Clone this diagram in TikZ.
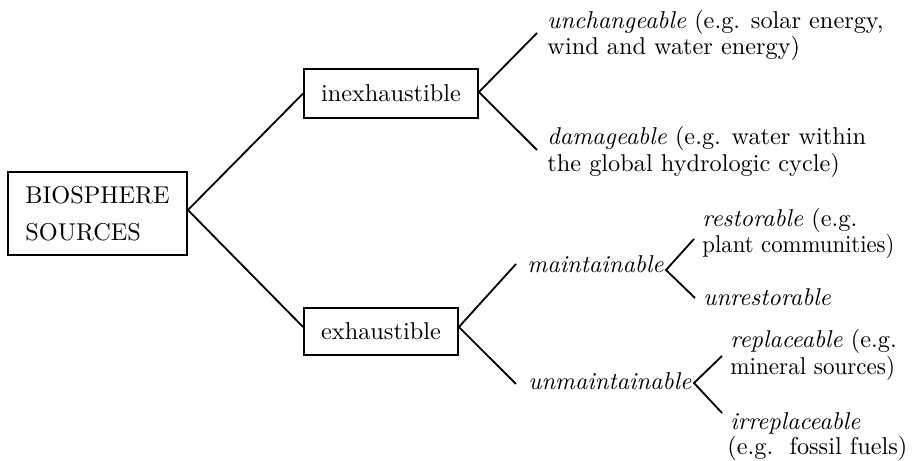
\documentclass[tikz,border=0pt]{standalone}
\usepackage{graphicx}
\begin{document}
\tikzset{
  box/.style={draw, line width=0.75pt, inner sep=0pt, align=left,
              font=\fontsize{10pt}{12pt}\selectfont},
  lbl/.style={anchor=base west, inner sep=0pt, font=\fontsize{10pt}{12pt}\selectfont},
  conn/.style={line width=0.75pt},
}
\begin{tikzpicture}[x=0.4115pt, y=-0.4115pt]
\useasboundingbox (0,0) rectangle (912,461);

% boxes
\node[box, minimum width=73.66pt, minimum height=34.15pt,
      font=\fontsize{10pt}{15.2pt}\selectfont] (bio) at (97.5,213.5) {BIOSPHERE\\SOURCES};
\node[box, minimum width=71.6pt, minimum height=20.16pt] (inex) at (391,93.5) {inexhaustible};
\node[box, minimum width=63.37pt, minimum height=19.5pt] (exh) at (381,331.5) {exhaustible};

% level-2 labels
\node[lbl] (maint) at (527,273) {\textit{maintainable}};
\node[lbl] (unmaint) at (528,390) {\textit{unmaintainable}};

% right-hand texts
\node[lbl] (unchA) at (547,29) {\textit{unchangeable} (e.g. solar energy,};
\node[lbl] (unchB) at (547,55) {wind and water energy)};
\node[lbl] (damA) at (547,145) {\textit{damageable} (e.g. water within};
\node[lbl] (damB) at (547,172) {the global hydrologic cycle)};

\node[lbl] (restA) at (702,227) {\textit{restorable} (e.g.};
\node[lbl] (restB) at (702,253) {\scalebox{0.935}[1]{plant communities)}};
\node[lbl] (unrest) at (703,306) {\textit{unrestorable}};

\node[lbl] (replA) at (730,348) {\textit{replaceable} (e.g.};
\node[lbl] (replB) at (730,375) {\scalebox{0.95}[1]{mineral sources)}};
\node[lbl] (irrA) at (730,430) {\textit{irreplaceable}};
\node[lbl] (irrB) at (727,455) {(e.g.\ \ fossil fuels)};

% connector end points
\coordinate (unchE) at (537,33);
\coordinate (damE) at (537,150);
\coordinate (maintE) at (516,264);
\coordinate (unmaintE) at (516,384);
\coordinate (mv) at (666,270);
\coordinate (restE) at (694,239);
\coordinate (unrestE) at (695,298);
\coordinate (uv) at (694,383);
\coordinate (replE) at (722,356);
\coordinate (irrE) at (722,413);

% connectors
\draw[conn] (inex.west) -- ([yshift=1.44pt]bio.east) -- ([yshift=1.85pt]exh.west);
\draw[conn] (unchE) -- ([yshift=0.6pt]inex.east) -- (damE);
\draw[conn] (maintE) -- ([yshift=1.85pt]exh.east) -- (unmaintE);
\draw[conn] (restE) -- (mv) -- (unrestE);
\draw[conn] (replE) -- (uv) -- (irrE);
\end{tikzpicture}
\end{document}
